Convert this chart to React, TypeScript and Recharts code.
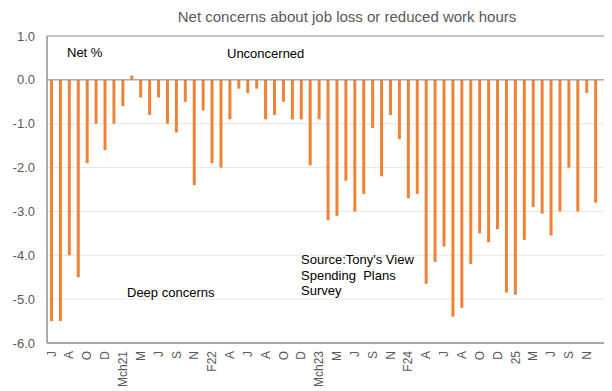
import React from "react";
import {
  BarChart,
  Bar,
  XAxis,
  YAxis,
  CartesianGrid,
  ReferenceLine,
  ReferenceArea,
} from "recharts";

// Survey months (one per bar); every other one is shown on the axis.
const months: string[] = [
  "J", "Jul", "A", "Sep", "O", "Nov", "D", "Feb", "Mch21", "Apr",
  "M", "Jun", "J", "Aug", "S", "Oct", "N", "Dec", "F22", "Mar",
  "A", "May", "J", "Jul", "A", "Sep", "O", "Nov", "D", "Feb",
  "Mch23", "Apr", "M", "Jun", "J", "Aug", "S", "Oct", "N", "Dec",
  "F24", "Mar", "A", "May", "J", "Jul", "A", "Sep", "O", "Nov",
  "D", "Feb", "25", "Apr", "M", "Jun", "J", "Aug", "S", "Oct",
  "N", "Dec", "",
];

// Net % of respondents concerned about job loss or reduced hours.
const netValues: (number | null)[] = [
  -5.5, -5.5, -4.0, -4.5, -1.9, -1.0, -1.6, -1.0, -0.6, 0.1,
  -0.4, -0.8, -0.4, -1.0, -1.2, -0.5, -2.4, -0.7, -1.9, -2.0,
  -0.9, -0.2, -0.3, -0.2, -0.9, -0.8, -0.5, -0.9, -0.9, -1.95,
  -0.9, -3.2, -3.1, -2.3, -3.0, -2.6, -1.1, -2.2, -0.8, -1.35,
  -2.7, -2.6, -4.65, -4.15, -3.8, -5.4, -5.2, -4.2, -3.5, -3.7,
  -3.4, -4.85, -4.9, -3.65, -2.9, -3.05, -3.55, -3.0, -2.0, -3.0,
  -0.3, -2.8, null,
];

const yTicks: number[] = [1, 0, -1, -2, -3, -4, -5, -6];

const data = months.map((month, i) => ({ month, net: netValues[i] }));

const AXIS_GREY = "#8f8f8f";
const TEXT_GREY = "#595959";
const FONT = "'Liberation Sans', Arial, sans-serif";

const MonthTick = (props: any) => {
  const { x, y, payload } = props;
  return (
    <text
      x={x}
      y={y}
      transform={`rotate(-90, ${x}, ${y})`}
      textAnchor="end"
      dy="0.35em"
      fill={TEXT_GREY}
      fontSize={12}
      fontFamily={FONT}
    >
      {payload.value}
    </text>
  );
};

const note: React.CSSProperties = {
  position: "absolute",
  fontSize: 13,
  lineHeight: "15px",
  color: "#000",
  whiteSpace: "pre",
};

export default function App() {
  return (
    <div
      style={{
        position: "relative",
        width: 604,
        height: 383,
        fontFamily: FONT,
        background: "#fff",
      }}
    >
      <div
        style={{
          position: "absolute",
          left: 139,
          top: 0,
          width: 400,
          textAlign: "center",
          fontSize: 15,
          lineHeight: "18px",
          color: TEXT_GREY,
        }}
      >
        Net concerns about job loss or reduced work hours
      </div>
      <BarChart
        width={604}
        height={383}
        data={data}
        margin={{ top: 28, right: 3, bottom: 8, left: 0 }}
        style={{ fontFamily: FONT }}
      >
        <CartesianGrid vertical={false} stroke="#e6e6e6" />
        <XAxis
          dataKey="month"
          interval={1}
          tickLine={false}
          axisLine={{ stroke: AXIS_GREY }}
          height={40}
          tick={<MonthTick />}
        />
        <YAxis
          domain={[-6, 1]}
          ticks={yTicks}
          width={39}
          tickLine={false}
          tickMargin={6}
          axisLine={{ stroke: AXIS_GREY }}
          tickFormatter={(v: number) => v.toFixed(1)}
          tick={{ fill: TEXT_GREY, fontSize: 13 }}
        />
        {/* plot-area frame */}
        <ReferenceArea
          y1={-6}
          y2={1}
          fill="none"
          fillOpacity={0}
          stroke={AXIS_GREY}
          strokeOpacity={1}
        />
        <ReferenceLine y={0} stroke={AXIS_GREY} />
        <Bar
          dataKey="net"
          fill="#ee8236"
          barSize={3}
          isAnimationActive={false}
        />
      </BarChart>
      <div style={{ ...note, left: 59, top: 37 }}>Net %</div>
      <div style={{ ...note, left: 219, top: 38 }}>Unconcerned</div>
      <div style={{ ...note, left: 119, top: 277 }}>Deep concerns</div>
      <div style={{ ...note, left: 293, top: 244, lineHeight: "15.5px" }}>
        {"Source:Tony's View\nSpending  Plans\nSurvey"}
      </div>
    </div>
  );
}
